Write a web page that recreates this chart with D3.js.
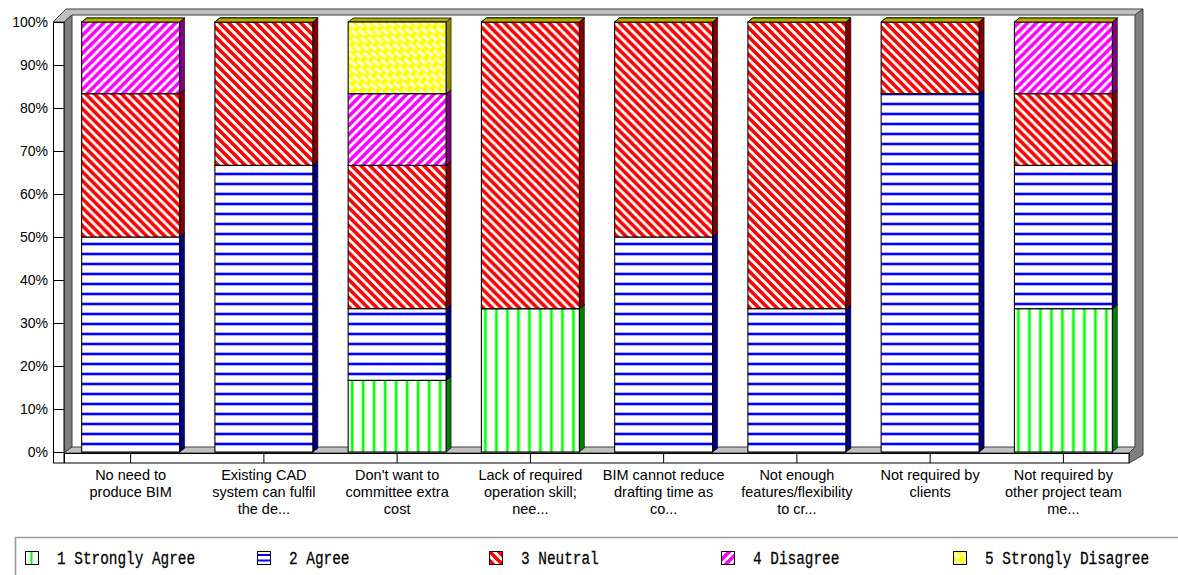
<!DOCTYPE html>
<html>
<head>
<meta charset="utf-8">
<script src="https://cdn.jsdelivr.net/npm/d3@7"></script>
<style>
  html, body { margin: 0; padding: 0; background: #ffffff; }
  svg { display: block; }
</style>
</head>
<body>
<svg id="chart" width="1178" height="575"></svg>
<script>
// ---- Data -------------------------------------------------------------
const categories = [
  "No need to\nproduce BIM",
  "Existing CAD\nsystem can fulfil\nthe de...",
  "Don't want to\ncommittee extra\ncost",
  "Lack of required\noperation skill;\nnee...",
  "BIM cannot reduce\ndrafting time as\nco...",
  "Not enough\nfeatures/flexibility\nto cr...",
  "Not required by\nclients",
  "Not required by\nother project team\nme..."
];

const seriesNames = ["1 Strongly Agree", "2 Agree", "3 Neutral", "4 Disagree", "5 Strongly Disagree"];

// share of responses (%) per category
const stronglyAgree    = [0,     0,     16.67, 33.33, 0,  0,     0,     33.33];
const agree            = [50,    66.67, 16.67, 0,     50, 33.33, 83.33, 33.33];
const neutral          = [33.33, 33.33, 33.33, 66.67, 50, 66.67, 16.67, 16.67];
const disagree         = [16.67, 0,     16.67, 0,     0,  0,     0,     16.67];
const stronglyDisagree = [0,     0,     16.67, 0,     0,  0,     0,     0];

const yTickValues = [0, 0.1, 0.2, 0.3, 0.4, 0.5, 0.6, 0.7, 0.8, 0.9, 1];
const yTickLabels = ["0%", "10%", "20%", "30%", "40%", "50%", "60%", "70%", "80%", "90%", "100%"];

// ---- Styling ----------------------------------------------------------
const sideColor  = ["#008000", "#000080", "#800000", "#800080", "#8a8a00"];
const topColor   = ["#00a000", "#0000a0", "#a00000", "#a000a0", "#b0b000"];
const kinds      = ["vert", "horiz", "back", "fwd", "brick"];

const svg = d3.select("#chart");
const defs = svg.append("defs");

const seriesValues = [stronglyAgree, agree, neutral, disagree, stronglyDisagree];
const keys = d3.range(seriesNames.length);
const table = categories.map((c, i) => {
  const row = { category: c, index: i };
  keys.forEach(k => { row[k] = seriesValues[k][i]; });
  return row;
});

const stacked = d3.stack().keys(keys).offset(d3.stackOffsetExpand)(table);

const x = d3.scaleBand()
  .domain(d3.range(categories.length))
  .range([64, 1130])
  .paddingInner(0.265)
  .paddingOuter(0.1325);

const y = d3.scaleLinear().domain([0, 1]).range([452, 22]);

const DX = 5, DY = 4; // bar depth

// ---- Fill patterns ----------------------------------------------------
function makePattern(id, kind, ox, oy) {
  const p = defs.append("pattern")
    .attr("id", id)
    .attr("patternUnits", "userSpaceOnUse")
    .attr("x", ox).attr("y", oy);
  if (kind === "vert") {
    p.attr("width", 11).attr("height", 10);
    p.append("rect").attr("width", 11).attr("height", 10).attr("fill", "#fff");
    p.append("rect").attr("x", 2).attr("width", 4).attr("height", 10).attr("fill", "#a8ffa8");
    p.append("rect").attr("x", 3).attr("width", 2).attr("height", 10).attr("fill", "#00ff00");
  } else if (kind === "horiz") {
    p.attr("width", 10).attr("height", 10);
    p.append("rect").attr("width", 10).attr("height", 10).attr("fill", "#fff");
    p.append("rect").attr("y", 2).attr("width", 10).attr("height", 4).attr("fill", "#b0b0ff");
    p.append("rect").attr("y", 3).attr("width", 10).attr("height", 2).attr("fill", "#0000ff");
  } else if (kind === "back" || kind === "fwd") {
    const col = kind === "back" ? "#ff0000" : "#ff00ff";
    p.attr("width", 9).attr("height", 9);
    p.append("rect").attr("width", 9).attr("height", 9).attr("fill", "#fff");
    const d = kind === "back"
      ? "M-3,6 L3,12 M0,0 L9,9 M6,-3 L12,3"
      : "M-3,3 L3,-3 M0,9 L9,0 M6,12 L12,6";
    p.append("path").attr("d", d).attr("stroke", col).attr("stroke-width", 3.6);
  } else {
    p.attr("width", 12).attr("height", 10).attr("patternTransform", "rotate(38)");
    p.append("rect").attr("width", 12).attr("height", 10).attr("fill", "#ffff00");
    p.append("rect").attr("x", 1).attr("y", 1).attr("width", 8).attr("height", 3.5).attr("fill", "#ffffc8");
    p.append("rect").attr("x", 7).attr("y", 6).attr("width", 8).attr("height", 3.5).attr("fill", "#ffffc8");
    p.append("rect").attr("x", -5).attr("y", 6).attr("width", 8).attr("height", 3.5).attr("fill", "#ffffc8");
  }
}

categories.forEach((c, i) => {
  keys.forEach(k => makePattern(`pat-${k}-${i}`, kinds[k], x(i), 0));
});

// ---- 3D frame ---------------------------------------------------------
const frame = svg.append("g").attr("class", "frame");
const line = d3.line();

frame.append("rect")
  .attr("x", 72).attr("y", 15).attr("width", 1063).attr("height", 432)
  .attr("fill", "#ffffff");

frame.append("path")
  .attr("d", line([[53, 22], [66, 9], [1143, 9], [1135, 15], [72, 15], [64, 22]]) + "Z")
  .attr("fill", "#c0c0c0").attr("stroke", "#404040").attr("stroke-width", 1);

frame.append("path")
  .attr("d", line([[64, 22], [72, 15], [72, 447], [64, 453]]) + "Z")
  .attr("fill", "#808080").attr("stroke", "#404040").attr("stroke-width", 1);

frame.append("path")
  .attr("d", line([[1135, 15], [1143, 9], [1143, 455], [1129, 463], [1129, 453], [1135, 447]]) + "Z")
  .attr("fill", "#808080").attr("stroke", "#404040").attr("stroke-width", 1);

frame.append("path")
  .attr("d", line([[64, 453], [72, 447], [1135, 447], [1129, 453]]) + "Z")
  .attr("fill", "#c0c0c0").attr("stroke", "#404040").attr("stroke-width", 1);

frame.append("rect")
  .attr("x", 64.5).attr("y", 453.5).attr("width", 1064.5).attr("height", 9.5)
  .attr("fill", "#ffffff").attr("stroke", "#000").attr("stroke-width", 1);

frame.append("rect")
  .attr("x", 53.5).attr("y", 22.5).attr("width", 10.5).attr("height", 440.5)
  .attr("fill", "#ffffff").attr("stroke", "#000").attr("stroke-width", 1);

// ---- Bars -------------------------------------------------------------
const bars = svg.append("g").attr("class", "bars");
categories.forEach((c, i) => {
  const g = bars.append("g");
  const x0 = x(i), x1 = x(i) + x.bandwidth();
  stacked.forEach((layer, k) => {
    const d = layer[i];
    const yb = y(d[0]), yt = y(d[1]);
    if (yb - yt > 0.01) {
      g.append("path")
        .attr("d", line([[x1, yt], [x1 + DX, yt - DY], [x1 + DX, yb - DY], [x1, yb]]) + "Z")
        .attr("fill", sideColor[k]).attr("stroke", "#000").attr("stroke-width", 0.6);
    }
    g.append("path")
      .attr("d", line([[x0, yt], [x0 + DX, yt - DY], [x1 + DX, yt - DY], [x1, yt]]) + "Z")
      .attr("fill", topColor[k]).attr("stroke", "#000").attr("stroke-width", 0.8);
    if (yb - yt > 0.01) {
      g.append("rect")
        .attr("x", x0).attr("y", yt)
        .attr("width", x.bandwidth()).attr("height", yb - yt)
        .attr("fill", `url(#pat-${k}-${i})`)
        .attr("stroke", "#000").attr("stroke-width", 1.1);
    }
  });
});

// ---- Axes -------------------------------------------------------------
const yAxis = svg.append("g")
  .attr("transform", "translate(64,0)")
  .call(d3.axisLeft(y).tickValues(yTickValues)
    .tickFormat((d, i) => yTickLabels[i]).tickSize(11).tickPadding(5));
yAxis.select(".domain").remove();
yAxis.selectAll("line").attr("stroke", "#000");
yAxis.selectAll("text")
  .attr("font-family", "'Liberation Sans', Arial, sans-serif")
  .attr("font-size", 14).attr("fill", "#000");

const xAxis = svg.append("g")
  .attr("transform", "translate(0,453)")
  .call(d3.axisBottom(x).tickSize(10).tickFormat(""));
xAxis.select(".domain").remove();
xAxis.selectAll("line").attr("stroke", "#000");

const labels = svg.append("g")
  .attr("font-family", "'Liberation Sans', Arial, sans-serif")
  .attr("font-size", 14.5).attr("fill", "#000")
  .attr("text-anchor", "middle");
categories.forEach((c, i) => {
  const t = labels.append("text");
  c.split("\n").forEach((ln, j) => {
    t.append("tspan")
      .attr("x", x(i) + x.bandwidth() / 2)
      .attr("y", 480 + j * 17)
      .text(ln);
  });
});

// ---- Legend -----------------------------------------------------------
const legend = svg.append("g").attr("class", "legend");
legend.append("path")
  .attr("d", "M15.5,575 L15.5,537.5 L1178,537.5")
  .attr("fill", "none").attr("stroke", "#9a9a9a").attr("stroke-width", 1.6);

seriesNames.forEach((name, k) => {
  const sx = 25 + k * 232, sy = 551;
  const g = legend.append("g");
  if (k === 0) {
    g.append("rect").attr("x", sx).attr("y", sy).attr("width", 13).attr("height", 13).attr("fill", "#fff");
    g.append("rect").attr("x", sx + 5.5).attr("y", sy).attr("width", 2).attr("height", 13).attr("fill", "#00ff00");
  } else if (k === 1) {
    g.append("rect").attr("x", sx).attr("y", sy).attr("width", 13).attr("height", 13).attr("fill", "#fff");
    g.append("rect").attr("x", sx).attr("y", sy + 3).attr("width", 13).attr("height", 2).attr("fill", "#0000ff");
    g.append("rect").attr("x", sx).attr("y", sy + 8.5).attr("width", 13).attr("height", 2).attr("fill", "#0000ff");
  } else {
    makePattern(`leg-${k}`, kinds[k], sx, sy);
    g.append("rect").attr("x", sx).attr("y", sy).attr("width", 13).attr("height", 13)
      .attr("fill", `url(#leg-${k})`);
  }
  g.append("rect").attr("x", sx + 0.5).attr("y", sy + 0.5).attr("width", 13).attr("height", 13)
    .attr("fill", "none").attr("stroke", "#000").attr("stroke-width", 1);
  // narrow serif label: monospace glyphs stretched vertically
  g.append("g")
    .attr("transform", `translate(${sx + 32},${sy + 13}) scale(1,1.22)`)
    .append("text")
    .attr("font-family", "'Liberation Mono', 'Courier New', monospace")
    .attr("font-size", 14.4).attr("fill", "#000")
    .attr("stroke", "#000").attr("stroke-width", 0.22)
    .text(name);
});
</script>
</body>
</html>
